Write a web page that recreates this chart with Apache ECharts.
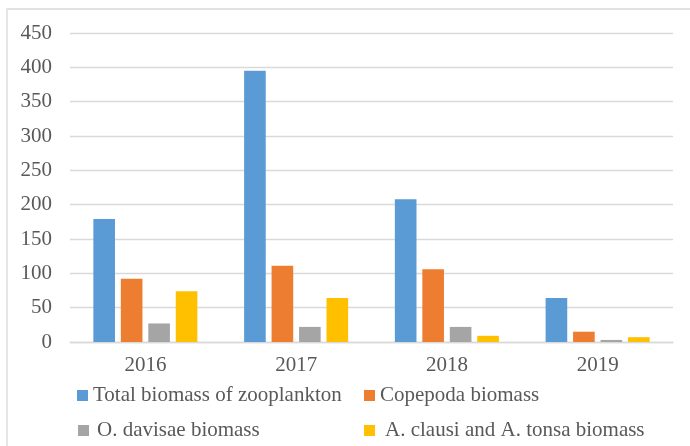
<!DOCTYPE html>
<html>
<head>
<meta charset="utf-8">
<script src="https://cdn.jsdelivr.net/npm/echarts@6/dist/echarts.min.js"></script>
<style>
  html, body { margin: 0; padding: 0; background: #fff; }
  #chart { width: 690px; height: 446px; }
</style>
</head>
<body>
<div id="chart"></div>
<script>
// biomass per year
const years = ['2016', '2017', '2018', '2019']
const seriesNames = ['Total biomass of zooplankton', 'Copepoda biomass', 'O. davisae biomass', 'A. clausi and A. tonsa biomass']
const totalBiomass = [179, 395, 208, 64]
const copepodaBiomass = [92, 111, 106, 15]
const davisaeBiomass = [27, 22, 22, 3]
const clausiTonsaBiomass = [74, 64, 9, 7]
const yTicks = [0, 450, 50] // min, max, step

const colors = ['#5B9BD5', '#ED7D31', '#A5A5A5', '#FFC000']
const font = 'Liberation Serif'
const values = [totalBiomass, copepodaBiomass, davisaeBiomass, clausiTonsaBiomass]

// one legend per item so each sits where Excel put it
const legendPos = [
  { left: 72, top: 380, pad: 0 },
  { left: 359, top: 380, pad: 0 },
  { left: 73, top: 415, pad: 3 },
  { left: 359, top: 415, pad: 5 }
]

const chart = echarts.init(document.getElementById('chart'))
let option = {
  animation: false,
  color: colors,
  graphic: [{
    type: 'rect',
    shape: { x: 7, y: 9, width: 700, height: 460 },
    style: { fill: 'none', stroke: '#D9D9D9', lineWidth: 1.3 },
    silent: true
  }],
  legend: legendPos.map((p, i) => ({
    left: p.left,
    top: p.top,
    data: [seriesNames[i]],
    icon: 'rect',
    itemWidth: 11,
    itemHeight: 11,
    textStyle: { fontFamily: font, fontSize: 21, color: '#595959', padding: [0, 0, 0, p.pad] }
  })),
  grid: {
    left: 70,
    right: 17,
    top: 33,
    bottom: 104
  },
  xAxis: {
    type: 'category',
    data: years,
    axisLine: { lineStyle: { color: '#D9D9D9', width: 1.3 } },
    axisTick: { show: false },
    axisLabel: { fontFamily: font, fontSize: 21, color: '#595959', margin: 13 }
  },
  yAxis: {
    type: 'value',
    min: yTicks[0],
    max: yTicks[1],
    interval: yTicks[2],
    axisLine: { show: false },
    axisTick: { show: false },
    splitLine: { lineStyle: { color: '#D9D9D9', width: 1.3 } },
    axisLabel: { fontFamily: font, fontSize: 21, color: '#595959', margin: 18 }
  },
  series: seriesNames.map((name, i) => ({
    name: name,
    type: 'bar',
    data: values[i],
    barGap: '27%',
    barCategoryGap: '31%'
  }))
}
chart.setOption(option)
</script>
</body>
</html>
